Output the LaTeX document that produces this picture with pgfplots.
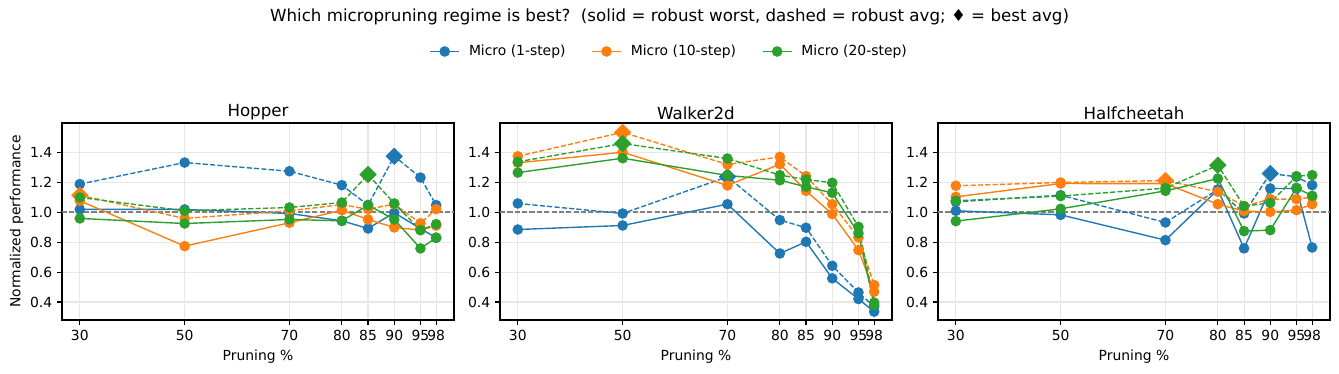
\documentclass[border=0pt]{standalone}
\usepackage{pgfplots}
\pgfplotsset{compat=1.18}
\usepackage{pgfplotstable}
\usepackage{fontspec}
\setmainfont{DejaVu Sans}

\definecolor{cb}{HTML}{1F77B4}
\definecolor{co}{HTML}{FF7F0E}
\definecolor{cg}{HTML}{2CA02C}
\definecolor{gridc}{HTML}{E7E7E7}

% w = robust worst (solid), a = robust avg (dashed)
\pgfplotstableread{
x  bw    ba    ow    oa    gw    ga
30 1.018 1.187 1.076 1.113 0.958 1.098
50 1.018 1.331 0.773 0.958 0.924 1.009
70 0.991 1.273 0.929 1.009 0.951 1.031
80 0.942 1.180 1.013 1.050 0.942 1.064
85 0.891 1.047 0.951 1.020 1.047 1.251
90 0.996 1.373 0.898 1.053 0.951 1.058
95 0.890 1.231 0.880 0.926 0.758 0.880
98 0.829 1.047 0.910 1.020 0.829 0.920
}\hopper

\pgfplotstableread{
x  bw    ba    ow    oa    gw    ga
30 0.884 1.058 1.329 1.373 1.264 1.336
50 0.911 0.991 1.400 1.533 1.360 1.458
70 1.053 1.236 1.178 1.318 1.245 1.358
80 0.724 0.947 1.320 1.369 1.213 1.247
85 0.802 0.896 1.142 1.240 1.169 1.218
90 0.558 0.642 0.987 1.053 1.129 1.196
95 0.420 0.464 0.747 0.831 0.858 0.902
98 0.336 0.369 0.469 0.513 0.380 0.396
}\walker

\pgfplotstableread{
x  bw    ba    ow    oa    gw    ga
30 1.009 1.069 1.102 1.176 0.940 1.076
50 0.982 1.113 1.191 1.198 1.022 1.107
70 0.813 0.931 1.190 1.211 1.142 1.160
80 1.150 1.151 1.053 1.136 1.224 1.313
85 0.758 0.991 1.007 1.040 0.873 1.040
90 1.158 1.258 1.002 1.087 0.880 1.062
95 1.158 1.236 1.013 1.087 1.162 1.240
98 0.764 1.180 1.053 1.100 1.109 1.247
}\cheetah

\pgfplotsset{
  panel/.style={
    scale only axis, width=282.24pt, height=141.84pt,
    anchor=south west,
    xmin=26.6, xmax=101.4, ymin=0.28, ymax=1.595,
    xtick={30,50,70,80,85,90,95,98},
    ytick={0.4,0.6,0.8,1.0,1.2,1.4},
    yticklabel style={/pgf/number format/.cd, fixed, fixed zerofill, precision=1},
    /pgf/number format/assume math mode=true,
    tick align=outside, major tick length=3.5pt,
    tick style={black, line width=0.8pt},
    axis line style={line width=0.8pt},
    xtick pos=bottom, ytick pos=left,
    grid=major, grid style={gridc, line width=0.8pt},
    xlabel={Pruning \%},
    label style={font=\fontsize{10}{12}\selectfont},
    ylabel style={yshift=-2pt},
    tick label style={font=\fontsize{10}{12}\selectfont},
    title style={font=\fontsize{12}{14}\selectfont, yshift=-7pt},
  },
  worst/.style={line width=1pt, mark=*, mark size=3.3pt, forget plot},
  avg/.style={line width=1pt, dash pattern=on 3.7pt off 1.6pt, mark=*, mark size=3.3pt, mark options={solid}, forget plot},
  best/.style={only marks, mark=square*, mark size=4.2pt, mark options={rotate=45}, forget plot},
  refline/.style={gray, line width=1pt, dash pattern=on 3.7pt off 1.6pt, forget plot},
}

\begin{document}
\begin{tikzpicture}
\useasboundingbox (0,0) rectangle (964.08pt,268.56pt);

\node[font=\fontsize{12}{14}\selectfont] at (482.04pt,256.3pt)
  {Which micropruning regime is best?~~(solid = robust worst, dashed = robust avg; ♦ = best avg)};

% Hopper
\begin{axis}[panel, at={(44.64pt,38.16pt)}, title={Hopper}, ylabel={Normalized performance}]
\addplot[refline] coordinates {(26.6,1) (101.4,1)};
\addplot[worst, cb] table[x=x, y=bw] {\hopper};
\addplot[avg, cb] table[x=x, y=ba] {\hopper};
\addplot[best, cb] coordinates {(90,1.373)};
\addplot[worst, co] table[x=x, y=ow] {\hopper};
\addplot[avg, co] table[x=x, y=oa] {\hopper};
\addplot[best, co] coordinates {(30,1.113)};
\addplot[worst, cg] table[x=x, y=gw] {\hopper};
\addplot[avg, cg] table[x=x, y=ga] {\hopper};
\addplot[best, cg] coordinates {(85,1.251)};
\end{axis}

% Walker2d
\begin{axis}[panel, at={(360pt,38.16pt)}, title={Walker2d},
  legend columns=3,
  legend style={draw=none, fill=none, at={(0.4324,1.363)}, anchor=center,
    font=\fontsize{10}{12}\selectfont,
    /tikz/every odd column/.append style={column sep=4.5pt},
    /tikz/every even column/.append style={column sep=16.5pt}},
  legend image code/.code={\draw[mark repeat=2, mark phase=2] plot coordinates {(0pt,0pt) (10.5pt,0pt) (21pt,0pt)};}]
\addlegendimage{cb, line width=1pt, mark=*, mark size=3.3pt}
\addlegendentry{Micro (1-step)}
\addlegendimage{co, line width=1pt, mark=*, mark size=3.3pt}
\addlegendentry{Micro (10-step)}
\addlegendimage{cg, line width=1pt, mark=*, mark size=3.3pt}
\addlegendentry{Micro (20-step)}
\addplot[refline] coordinates {(26.6,1) (101.4,1)};
\addplot[worst, cb] table[x=x, y=bw] {\walker};
\addplot[avg, cb] table[x=x, y=ba] {\walker};
\addplot[best, cb] coordinates {(70,1.236)};
\addplot[worst, co] table[x=x, y=ow] {\walker};
\addplot[avg, co] table[x=x, y=oa] {\walker};
\addplot[best, co] coordinates {(50,1.533)};
\addplot[worst, cg] table[x=x, y=gw] {\walker};
\addplot[avg, cg] table[x=x, y=ga] {\walker};
\addplot[best, cg] coordinates {(50,1.458)};
\end{axis}

% Halfcheetah
\begin{axis}[panel, at={(675.36pt,38.16pt)}, title={Halfcheetah}]
\addplot[refline] coordinates {(26.6,1) (101.4,1)};
\addplot[worst, cb] table[x=x, y=bw] {\cheetah};
\addplot[avg, cb] table[x=x, y=ba] {\cheetah};
\addplot[best, cb] coordinates {(90,1.258)};
\addplot[worst, co] table[x=x, y=ow] {\cheetah};
\addplot[avg, co] table[x=x, y=oa] {\cheetah};
\addplot[best, co] coordinates {(70,1.211)};
\addplot[worst, cg] table[x=x, y=gw] {\cheetah};
\addplot[avg, cg] table[x=x, y=ga] {\cheetah};
\addplot[best, cg] coordinates {(80,1.313)};
\end{axis}
\end{tikzpicture}
\end{document}
